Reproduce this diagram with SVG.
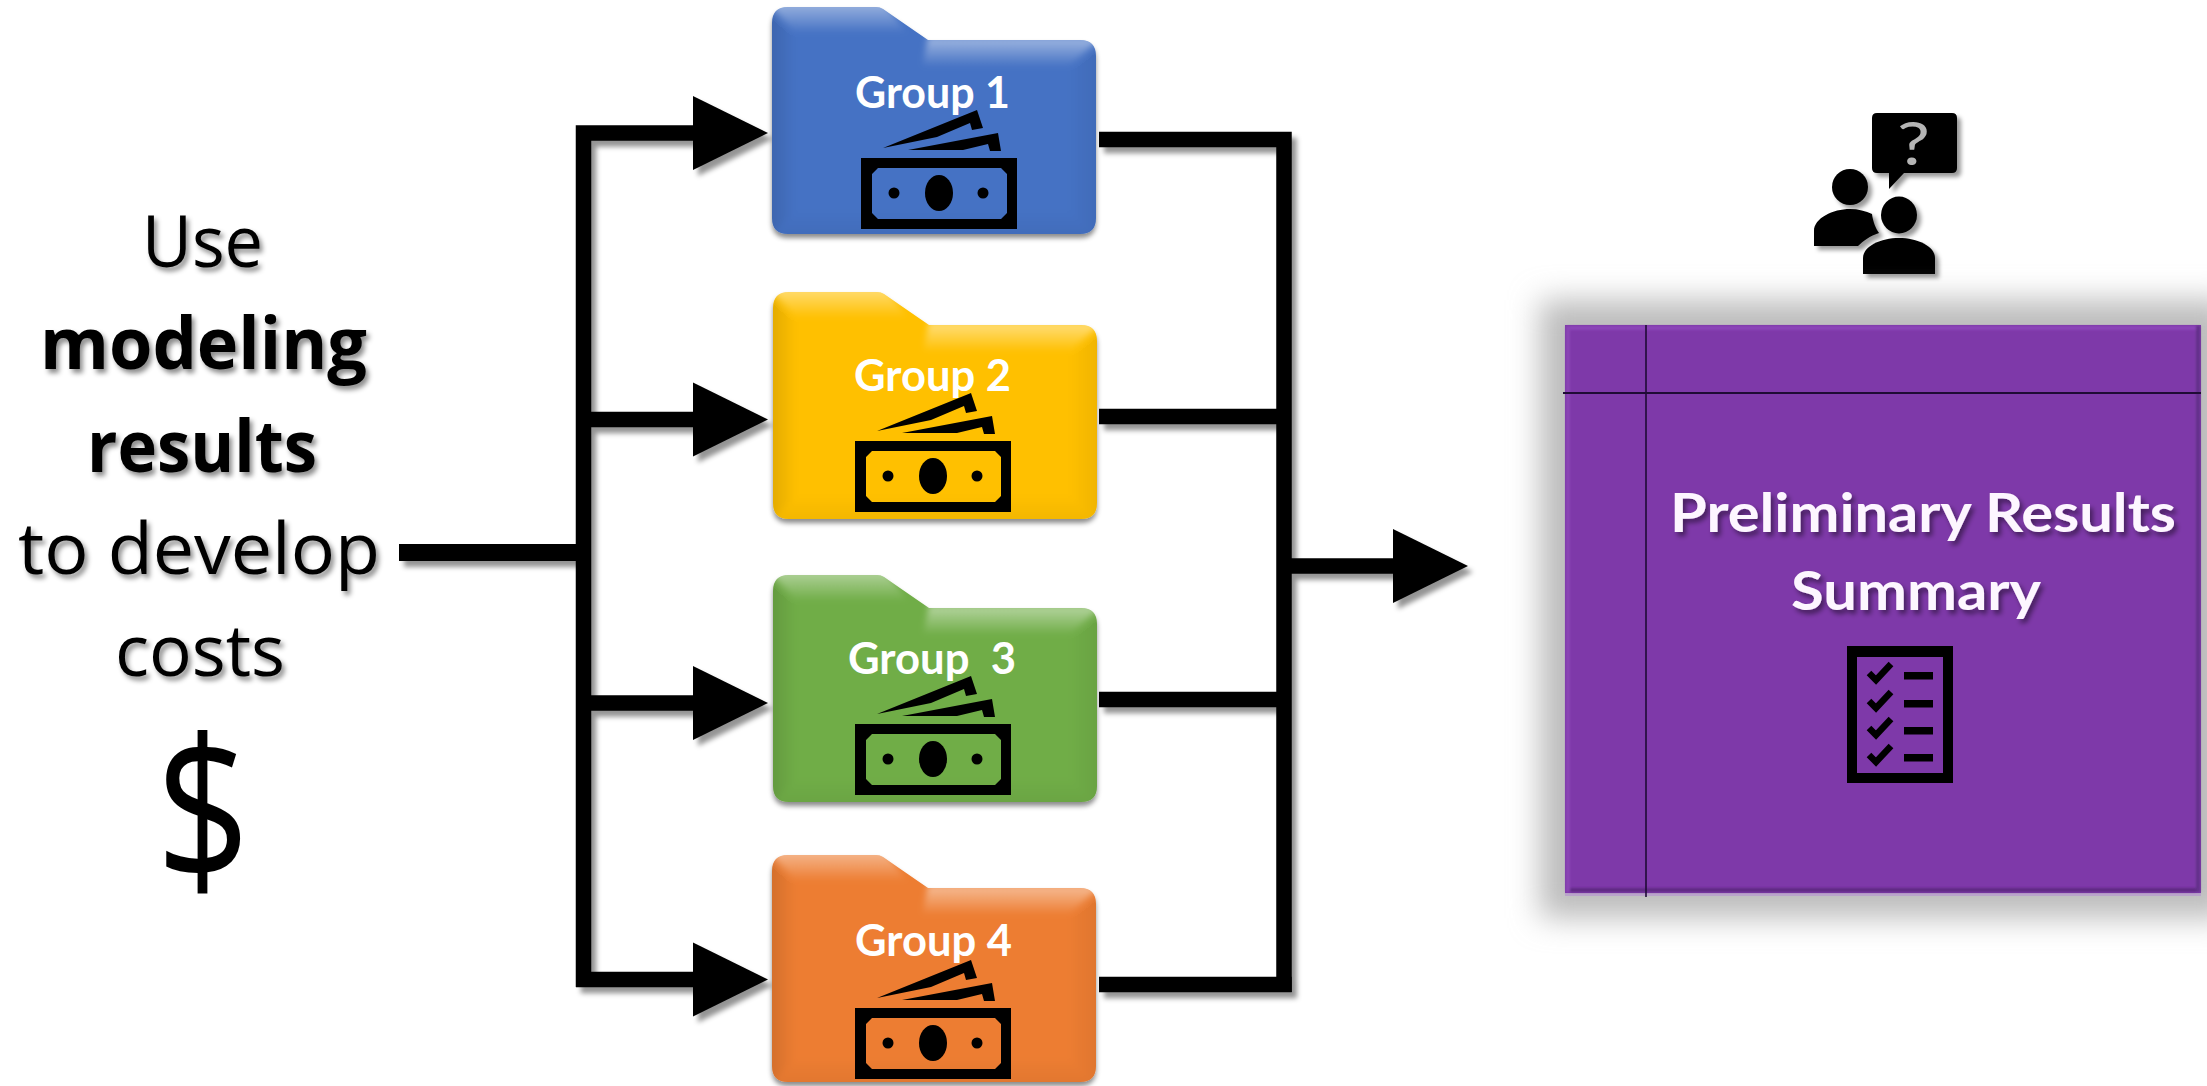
<svg xmlns="http://www.w3.org/2000/svg" width="2207" height="1086" viewBox="0 0 2207 1086">
<style>
.lbl{font-family:"Open Sans","Liberation Sans",sans-serif;fill:#000;font-size:71px}
.b{font-weight:700}
.grp{font-family:Lato,"Liberation Sans",sans-serif;font-weight:700;font-size:43px;fill:#fff;white-space:pre}
.prelim{font-family:Lato,"Liberation Sans",sans-serif;font-weight:700;font-size:53px;fill:#fdf6ff}
.line{fill:none;stroke:#000;stroke-width:15.5;stroke-linejoin:miter}
.arr{marker-end:url(#head)}
</style>
<defs>
<filter id="sh" x="-5%" y="-5%" width="115%" height="115%"><feDropShadow dx="5" dy="6" stdDeviation="2.5" flood-color="#000" flood-opacity=".42"/></filter>
<filter id="txs" x="-10%" y="-20%" width="125%" height="150%"><feDropShadow dx="3" dy="4" stdDeviation="2.5" flood-color="#000" flood-opacity=".45"/></filter>
<filter id="fsh" x="-5%" y="-5%" width="110%" height="115%"><feDropShadow dx="0" dy="4" stdDeviation="2.5" flood-color="#000" flood-opacity=".45"/></filter>
<filter id="blur" x="-10%" y="-10%" width="120%" height="120%"><feGaussianBlur stdDeviation="15"/></filter>
<filter id="soft" x="-5%" y="-5%" width="110%" height="110%"><feGaussianBlur stdDeviation="3"/></filter>
<filter id="soft1" x="-1%" y="-1%" width="102%" height="102%"><feGaussianBlur stdDeviation="1.2"/></filter>
<filter id="icsh" x="-20%" y="-20%" width="150%" height="150%"><feDropShadow dx="4" dy="4" stdDeviation="2" flood-color="#000" flood-opacity=".4"/></filter>
<marker id="head" markerUnits="userSpaceOnUse" markerWidth="75" markerHeight="74" refX="0" refY="37" orient="auto" overflow="visible"><path d="M0 0L75 37L0 74Z" fill="#000"/></marker>
<linearGradient id="gt" x1="0" y1="0" x2="0" y2="1"><stop offset="0" stop-color="#fff" stop-opacity=".5"/><stop offset="1" stop-color="#fff" stop-opacity="0"/></linearGradient>
<linearGradient id="gl" x1="0" y1="0" x2="1" y2="0"><stop offset="0" stop-color="#000" stop-opacity=".13"/><stop offset="1" stop-color="#000" stop-opacity="0"/></linearGradient>
<linearGradient id="gr" x1="1" y1="0" x2="0" y2="0"><stop offset="0" stop-color="#000" stop-opacity=".07"/><stop offset="1" stop-color="#000" stop-opacity="0"/></linearGradient>
<linearGradient id="gb" x1="0" y1="1" x2="0" y2="0"><stop offset="0" stop-color="#000" stop-opacity=".06"/><stop offset="1" stop-color="#000" stop-opacity="0"/></linearGradient>
<path id="fold" d="M16 0H104Q108 0 111 2L156 33H308Q324 33 324 49V211Q324 227 308 227H16Q0 227 0 211V16Q0 0 16 0Z"/>
<clipPath id="foldclip"><use href="#fold"/></clipPath>
<g id="bevel" clip-path="url(#foldclip)">
<g filter="url(#soft)">
<polygon points="-6,-6 112,-6 135,26 24,26" fill="url(#gt)"/>
<polygon points="156,30 330,30 296,60 150,60" fill="url(#gt)"/>
<polygon points="-6,-6 24,26 24,203 -6,233" fill="url(#gl)"/>
<polygon points="330,33 296,60 296,203 330,233" fill="url(#gr)"/>
<polygon points="-6,233 24,203 296,203 330,233" fill="url(#gb)"/>
</g>
</g>
<g id="money">
<path fill-rule="evenodd" d="M0 0H156V71H0ZM17 10L11 16V55L17 61H140L146 55V16L140 10Z"/>
<ellipse cx="78" cy="35" rx="14" ry="18"/>
<circle cx="33" cy="35" r="5.5"/>
<circle cx="122" cy="35" r="5.5"/>
<polygon points="22,-10 116,-48 122,-30 111,-28 109,-35 76,-21"/>
<polygon points="47,-8 137,-25 140,-7 129,-7 127,-14 102,-8"/>
</g>
<g id="check"><polyline points="1,7 8,14 23,-2" fill="none" stroke="#000" stroke-width="6.5"/><rect x="36" y="6" width="29" height="7.5"/></g>
</defs>
<rect width="2207" height="1086" fill="#fff"/>

<g id="connectors" filter="url(#sh)">
<path class="line" style="stroke-width:17" d="M399 552.5H584"/>
<path class="line arr" d="M583.5 987V133H693"/>
<path class="line arr" d="M576 419.5H693"/>
<path class="line arr" d="M576 703H693"/>
<path class="line arr" d="M576 979.5H693"/>
<path class="line" d="M1099 139.5H1284V992"/>
<path class="line" d="M1099 416.5H1284"/>
<path class="line" d="M1099 699.5H1284"/>
<path class="line" d="M1099 984.5H1291.7"/>
<path class="line arr" d="M1284 566H1393"/>
</g>

<g id="source-text">
<g filter="url(#txs)">
<text class="lbl" x="142" y="267" textLength="121" lengthAdjust="spacingAndGlyphs">Use</text>
<text class="lbl b" x="40" y="369" textLength="327" lengthAdjust="spacingAndGlyphs">modeling</text>
<text class="lbl b" x="87" y="472" textLength="230" lengthAdjust="spacingAndGlyphs">results</text>
<text class="lbl" x="18" y="574" textLength="362" lengthAdjust="spacingAndGlyphs">to develop</text>
<text class="lbl" x="115" y="676" textLength="170" lengthAdjust="spacingAndGlyphs">costs</text>
</g>
<text class="lbl" x="156" y="882" style="font-size:200px" textLength="94" lengthAdjust="spacingAndGlyphs">$</text>
</g>

<g id="group1">
<use href="#fold" x="772" y="7" fill="#4472c4" filter="url(#fsh)"/>
<use href="#bevel" x="772" y="7"/>
<text class="grp" x="855" y="108" textLength="155" lengthAdjust="spacingAndGlyphs">Group 1</text>
<use href="#money" x="861" y="158"/>
</g>
<g id="group2">
<use href="#fold" x="773" y="292" fill="#ffc000" filter="url(#fsh)"/>
<use href="#bevel" x="773" y="292"/>
<text class="grp" x="854" y="391" textLength="157" lengthAdjust="spacingAndGlyphs">Group 2</text>
<use href="#money" x="855" y="441"/>
</g>
<g id="group3">
<use href="#fold" x="773" y="575" fill="#70ad47" filter="url(#fsh)"/>
<use href="#bevel" x="773" y="575"/>
<text class="grp" x="848" y="674" textLength="168" lengthAdjust="spacingAndGlyphs">Group  3</text>
<use href="#money" x="855" y="724"/>
</g>
<g id="group4">
<use href="#fold" x="772" y="855" fill="#ed7d31" filter="url(#fsh)"/>
<use href="#bevel" x="772" y="855"/>
<text class="grp" x="855" y="956" textLength="157" lengthAdjust="spacingAndGlyphs">Group 4</text>
<use href="#money" x="855" y="1008"/>
</g>

<g id="people" filter="url(#icsh)">
<path d="M1877 113H1952Q1957 113 1957 118V168Q1957 173 1952 173H1904L1889 189V173H1877Q1872 173 1872 168V118Q1872 113 1877 113Z"/>
<text x="1897" y="165" font-family="Lato,'Liberation Sans',sans-serif" fill="#b5b5b5" textLength="33" lengthAdjust="spacingAndGlyphs" style="font-size:60px">?</text>
<ellipse cx="1850" cy="187" rx="18" ry="18"/>
<path d="M1814 246V231C1814 218 1833 209 1850 209C1858 209 1866 211 1872 214C1873 222 1876 229 1879 233C1870 236 1863 241 1858 246Z"/>
<ellipse cx="1899" cy="215" rx="18" ry="18.5"/>
<path d="M1863 274V258C1863 246 1881 238 1899 238C1917 238 1935 246 1935 258V274Z"/>
</g>

<g id="summary">
<rect x="1540" y="300" width="690" height="618" fill="#bcbcbc" filter="url(#blur)"/>
<rect x="1565" y="893" width="636" height="3" fill="#b9a3ca"/>
<rect x="1565" y="325" width="636" height="568" fill="#7e39a9"/>
<g filter="url(#soft1)">
<rect x="1566" y="326" width="634" height="4" fill="#8c44b8"/>
<rect x="1566" y="888" width="634" height="4" fill="#5f2a83"/>
<rect x="1566" y="326" width="4" height="566" fill="#8a44b5"/>
<rect x="2196" y="326" width="4" height="566" fill="#64308a"/>
</g>
<line x1="1646" y1="325" x2="1646" y2="897" stroke="#1f0b35" stroke-width="1.6"/>
<line x1="1563" y1="393" x2="2201" y2="393" stroke="#1f0b35" stroke-width="1.8"/>
<g filter="url(#txs)">
<text class="prelim" x="1670" y="532" textLength="506" lengthAdjust="spacingAndGlyphs">Preliminary Results</text>
<text class="prelim" x="1791" y="610" textLength="250" lengthAdjust="spacingAndGlyphs">Summary</text>
</g>
<path fill-rule="evenodd" d="M1847 646H1953V783H1847ZM1857 657V773H1943V657Z"/>
<use href="#check" x="1868" y="666"/>
<use href="#check" x="1868" y="694"/>
<use href="#check" x="1868" y="721"/>
<use href="#check" x="1868" y="748"/>
</g>
</svg>
